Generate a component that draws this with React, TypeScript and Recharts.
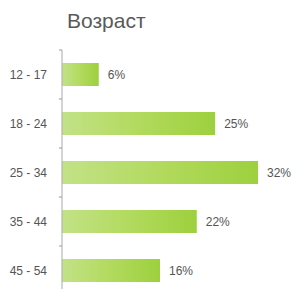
import { BarChart, Bar, XAxis, YAxis, LabelList } from 'recharts';

const ageGroups = ['12 - 17', '18 - 24', '25 - 34', '35 - 44', '45 - 54'];
const shares = [6, 25, 32, 22, 16];

const data = ageGroups.map((name, i) => ({ name, value: shares[i] }));

const BAND = 49;

function AgeTick(props: any) {
  const { x, y, payload } = props;
  return (
    <g>
      <line x1={x - 3} x2={x} y1={y - BAND / 2} y2={y - BAND / 2} stroke="#999" strokeWidth={1} />
      <text x={x - 15} y={y} dy={4} textAnchor="end" fontSize={12} fill="#555">
        {payload.value}
      </text>
    </g>
  );
}

export default function App() {
  return (
    <div
      style={{
        position: 'absolute',
        left: 0,
        top: 0,
        width: 296,
        height: 289,
        overflow: 'hidden',
        background: '#fff',
        fontFamily: '"Liberation Sans", Arial, sans-serif',
      }}
    >
      <div
        style={{
          position: 'absolute',
          left: 67,
          top: 9,
          fontSize: 21,
          color: '#5a5a5a',
          zIndex: 1,
        }}
      >
        Возраст
      </div>
      <BarChart
        width={296}
        height={300}
        data={data}
        layout="vertical"
        margin={{ top: 50, right: 38, bottom: 5, left: 0 }}
        barSize={23}
      >
        <defs>
          <linearGradient id="barGreen" x1="0" y1="0" x2="1" y2="0">
            <stop offset="0%" stopColor="#c2e287" />
            <stop offset="50%" stopColor="#b2da5e" />
            <stop offset="100%" stopColor="#9dd03e" />
          </linearGradient>
        </defs>
        <XAxis type="number" domain={[0, 32]} hide />
        <YAxis
          type="category"
          dataKey="name"
          width={62}
          tickSize={0}
          tickMargin={0}
          axisLine={{ stroke: '#aaa' }}
          tickLine={false}
          tick={<AgeTick />}
        />
        <Bar dataKey="value" fill="url(#barGreen)" isAnimationActive={false}>
          <LabelList
            dataKey="value"
            position="right"
            offset={9}
            fontSize={12}
            fill="#555"
            formatter={(v: any) => `${v}%`}
          />
        </Bar>
      </BarChart>
    </div>
  );
}
